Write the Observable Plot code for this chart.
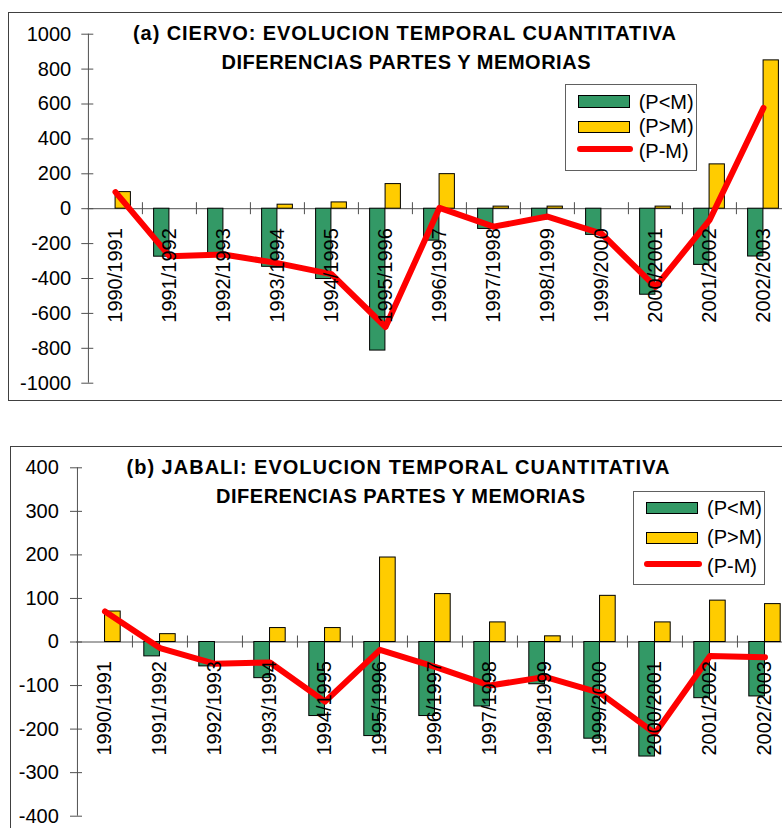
<!DOCTYPE html>
<html>
<head>
<meta charset="utf-8">
<script src="https://cdn.jsdelivr.net/npm/d3@7"></script>
<script src="https://cdn.jsdelivr.net/npm/@observablehq/plot@0.6"></script>
<style>
html, body { margin: 0; padding: 0; background: #fff; overflow: hidden; }
body { width: 782px; height: 828px; position: relative; font-family: "Liberation Sans", Arial, sans-serif; }
.panel { position: absolute; left: 0; width: 800px; }
.frame { position: absolute; border: 1px solid #404040; box-sizing: border-box; pointer-events: none; }
.title { position: absolute; font-weight: bold; font-size: 20px; white-space: nowrap; line-height: 1; color: #000; }
.legend { position: absolute; border: 1px solid #606060; background: #fff; box-sizing: border-box; }
.legend .sw { position: absolute; box-sizing: border-box; border: 1.5px solid #000; }
.legend .ln { position: absolute; border-radius: 3px; }
.legend .tx { position: absolute; font-size: 20px; line-height: 1; white-space: nowrap; color: #000; }
</style>
</head>
<body>
<script>
// ---------- data ----------
const cats = ["1990/1991","1991/1992","1992/1993","1993/1994","1994/1995","1995/1996","1996/1997",
              "1997/1998","1998/1999","1999/2000","2000/2001","2001/2002","2002/2003"];

// (a) CIERVO
const lessA = [0, -275, -260, -333, -403, -813, -183, -116, -62, -150, -493, -322, -274];
const moreA = [95, 0, 0, 23, 36, 141, 198, 12, 12, 0, 12, 254, 850];
const diffA = [95, -272, -262, -312, -375, -678, 5, -103, -45, -143, -448, -66, 578];

// (b) JABALI
const lessB = [0, -33, -56, -83, -170, -216, -170, -148, -97, -222, -263, -129, -125];
const moreB = [70, 18, 0, 32, 32, 194, 110, 45, 13, 106, 45, 95, 87];
const diffB = [70, -14, -50, -47, -137, -18, -57, -100, -80, -117, -210, -32, -35];

const yTicksA = [-1000, -800, -600, -400, -200, 0, 200, 400, 600, 800, 1000];
const yTicksB = [-400, -300, -200, -100, 0, 100, 200, 300, 400];

const seriesLabels = ["(P<M)", "(P>M)", "(P-M)"];
const titlesA = ["(a) CIERVO: EVOLUCION TEMPORAL CUANTITATIVA", "DIFERENCIAS PARTES Y MEMORIAS"];
const titlesB = ["(b) JABALI: EVOLUCION TEMPORAL CUANTITATIVA", "DIFERENCIAS PARTES Y MEMORIAS"];

const colLess = "#339966", colMore = "#FFCC00", colDiff = "#FF0000";
const axisColor = "#505050";

// ---------- chart builder ----------
function panel(o) {
  const rows = cats.map((c, i) => ({cat: c, less: o.less[i], more: o.more[i], diff: o.diff[i]}));
  const bw = (o.width - o.ml - o.mr) / cats.length;
  const w = bw / 3.5;
  const pxPerUnit = (o.height - o.mt - o.mb) / (o.yDomain[1] - o.yDomain[0]);
  const tickU = 6 / pxPerUnit;
  return Plot.plot({
    width: o.width, height: o.height,
    marginLeft: o.ml, marginRight: o.mr, marginTop: o.mt, marginBottom: o.mb,
    x: {type: "band", domain: cats, padding: 0, axis: null},
    y: {domain: o.yDomain, axis: null},
    style: {maxWidth: "none", background: "transparent", fontFamily: "'Liberation Sans', Arial, sans-serif", fontSize: "20px", overflow: "visible"},
    marks: [
      Plot.ruleY([0], {stroke: axisColor, strokeWidth: 1}),
      Plot.ruleX(cats.slice(1), {x: d => d, y1: -tickU, y2: tickU, dx: -bw / 2, stroke: axisColor}),
      Plot.ruleX([cats[0]], {x: d => d, y1: o.yDomain[0], y2: o.yDomain[1], dx: -bw / 2, stroke: axisColor}),
      Plot.axisY({ticks: o.yTicks, tickFormat: d => String(d), tickSize: 12, dx: 6, tickPadding: o.tickPad,
                  stroke: axisColor, fill: "#000", fontSize: 20, label: null}),
      Plot.barY(rows.filter(d => d.less !== 0), {x: "cat", y: "less", fill: colLess, stroke: "#000", strokeWidth: 1,
                  insetLeft: bw / 2 - w, insetRight: bw / 2}),
      Plot.barY(rows.filter(d => d.more !== 0), {x: "cat", y: "more", fill: colMore, stroke: "#000", strokeWidth: 1,
                  insetLeft: bw / 2, insetRight: bw / 2 - w}),
      Plot.line(rows, {x: "cat", y: "diff", stroke: colDiff, strokeWidth: 6, strokeLinejoin: "round", strokeLinecap: "round"}),
      Plot.text(rows, {x: "cat", y: () => 0, text: "cat", rotate: -90, textAnchor: "end", dy: o.labelGap, fontSize: 20, fill: "#000"})
    ]
  });
}

function addPanel(top, o) {
  const div = document.createElement("div");
  div.className = "panel";
  div.style.top = top + "px";
  div.style.height = o.height + "px";
  div.appendChild(panel(o));
  document.body.appendChild(div);
}

function addFrame(l, t, w, h) {
  const f = document.createElement("div");
  f.className = "frame";
  Object.assign(f.style, {left: l + "px", top: t + "px", width: w + "px", height: h + "px"});
  document.body.appendChild(f);
}

function addTitle(text, cx, cy, target) {
  const s = document.createElement("div");
  s.className = "title";
  s.textContent = text;
  document.body.appendChild(s);
  const w0 = s.getBoundingClientRect().width;
  const ls = (target - w0) / (text.length - 1);
  s.style.letterSpacing = ls + "px";
  const h = s.getBoundingClientRect().height;
  s.style.left = (cx - target / 2) + "px";
  s.style.top = (cy - h * 0.49) + "px";
}

function addLegend(g) {
  const box = document.createElement("div");
  box.className = "legend";
  Object.assign(box.style, {left: g.left + "px", top: g.top + "px", width: g.width + "px", height: g.height + "px"});
  const sw1 = document.createElement("div"); sw1.className = "sw";
  Object.assign(sw1.style, {left: g.swL + "px", top: g.sw1T + "px", width: g.swW + "px", height: g.swH + "px", background: colLess});
  const sw2 = document.createElement("div"); sw2.className = "sw";
  Object.assign(sw2.style, {left: g.swL + "px", top: g.sw2T + "px", width: g.swW + "px", height: g.swH + "px", background: colMore});
  const ln = document.createElement("div"); ln.className = "ln";
  Object.assign(ln.style, {left: g.lnL + "px", top: (g.lnY - 3) + "px", width: g.lnW + "px", height: "6px", background: colDiff});
  box.append(sw1, sw2, ln);
  seriesLabels.forEach((t, i) => {
    const tx = document.createElement("div"); tx.className = "tx";
    tx.textContent = t;
    tx.style.left = g.txL + "px";
    tx.style.top = (g.txY[i] - 10) + "px";
    box.appendChild(tx);
  });
  document.body.appendChild(box);
}

// ---------- panel (a) ----------
addPanel(0, {less: lessA, more: moreA, diff: diffA, yDomain: [-1000, 1000], yTicks: yTicksA,
  width: 800, height: 420, ml: 87.3, mr: 8.5, mt: 33.7, mb: 37.3, tickPad: 10.6, labelGap: 19.5});
// ---------- panel (b) ----------
addPanel(420, {less: lessB, more: moreB, diff: diffB, yDomain: [-400, 400], yTicks: yTicksB,
  width: 800, height: 408, ml: 76, mr: 7.7, mt: 47.3, mb: 12.3, tickPad: 11.7, labelGap: 19});

addFrame(8, 12, 800, 389);
addFrame(10, 446, 800, 420);

addTitle(titlesA[0], 404.5, 32.3, 543);
addTitle(titlesA[1], 406, 61.7, 369);
addTitle(titlesB[0], 398, 466.7, 543);
addTitle(titlesB[1], 400.5, 496, 369);

addLegend({left: 565, top: 84.3, width: 131.7, height: 86.4, swL: 11.7, swW: 52.6, swH: 12.4, sw1T: 10, sw2T: 35.7,
  lnL: 10.7, lnW: 56.6, lnY: 64, txL: 72.7, txY: [16.7, 41.2, 65.7]});
addLegend({left: 633.3, top: 491, width: 131.7, height: 94, swL: 11.7, swW: 51.7, swH: 12.3, sw1T: 10, sw2T: 40,
  lnL: 10, lnW: 57.4, lnY: 72.3, txL: 72.7, txY: [15.7, 45, 74]});
</script>
</body>
</html>
